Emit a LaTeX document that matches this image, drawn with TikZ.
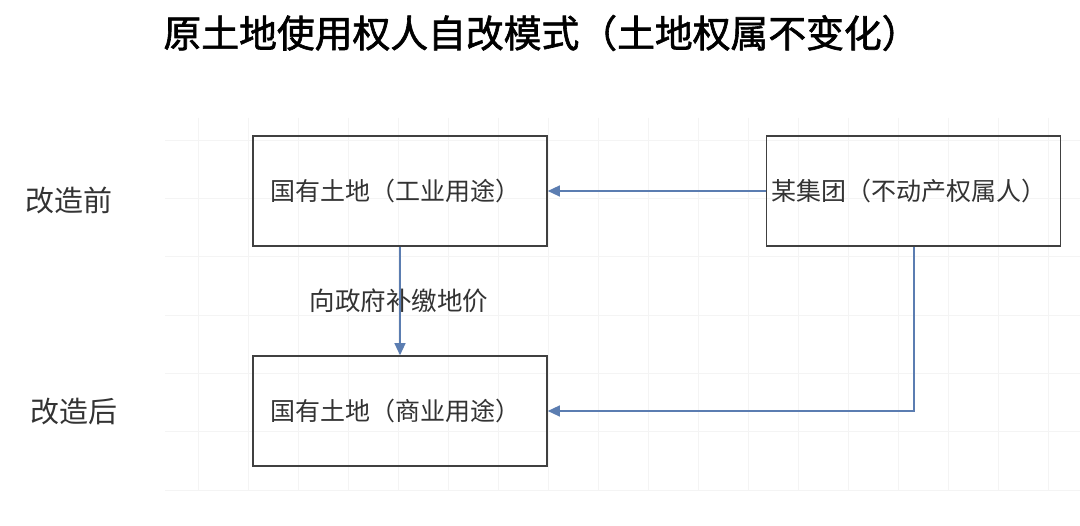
\documentclass[tikz,border=0pt]{standalone}
\usepackage{fontspec}
\newfontfamily\cjk{Noto Sans CJK SC}
\newfontfamily\cjkt[FakeBold=1.6]{Noto Sans CJK SC}
\usetikzlibrary{arrows.meta}
\definecolor{conn}{HTML}{5B7DB1}
\definecolor{txt}{HTML}{333333}
\definecolor{gridc}{HTML}{F4F4F4}
\tikzset{
  box/.style={draw=black!75, line width=1.6pt, minimum width=294pt, minimum height=110pt, inner sep=0pt},
  boxtext/.style={font=\cjk\fontsize{25}{30}\selectfont, text=txt},
  side/.style={font=\cjk\fontsize{29}{34}\selectfont, text=txt},
  conn/.style={draw=conn, line width=1.3pt, -{Triangle[length=12pt,width=11pt]}}
}
\begin{document}
\begin{tikzpicture}[x=1pt,y=-1pt]
\useasboundingbox (0,0) rectangle (1080,526);
\fill[white] (0,0) rectangle (1080,526);
% faint grid
\foreach \gx in {198,248,...,1060} \draw[gridc, line width=0.8pt] (\gx,118) -- (\gx,490);
\foreach \gy in {140,198.3,256.6,315,373.3,431.6,490} \draw[gridc, line width=0.8pt] (165,\gy) -- (1080,\gy);
% title
\node[font=\cjkt\fontsize{37.8}{42}\selectfont, text=black, anchor=west] (title) at (160,33) {原土地使用权人自改模式（土地权属不变化）};
% boxes
\node[box] (b1) at (400,191) {};
\node[boxtext, anchor=west] (t1) at (267,191) {国有土地（工业用途）};
\node[box] (b2) at (400,411) {};
\node[boxtext, anchor=west] (t2) at (267,411) {国有土地（商业用途）};
\node[box] (b3) at (913.5,191) {};
\node[boxtext, anchor=west] (t3) at (768,191) {某集团（不动产权属人）};
% side labels
\node[side, anchor=west] (before) at (22,200) {改造前};
\node[side, anchor=west] (after) at (27,412) {改造后};
% connectors
\draw[conn] (b3.west) -- (b1.east);
\draw[conn] (b1.south) -- (b2.north);
\node[font=\cjk\fontsize{25.5}{30}\selectfont, text=txt, anchor=center] (lbl) at (399,301) {向政府补缴地价};
\coordinate (corner) at (914,411);
\draw[conn] (b3.south -| corner) -- (corner) -- (b2.east);
\end{tikzpicture}
\end{document}
